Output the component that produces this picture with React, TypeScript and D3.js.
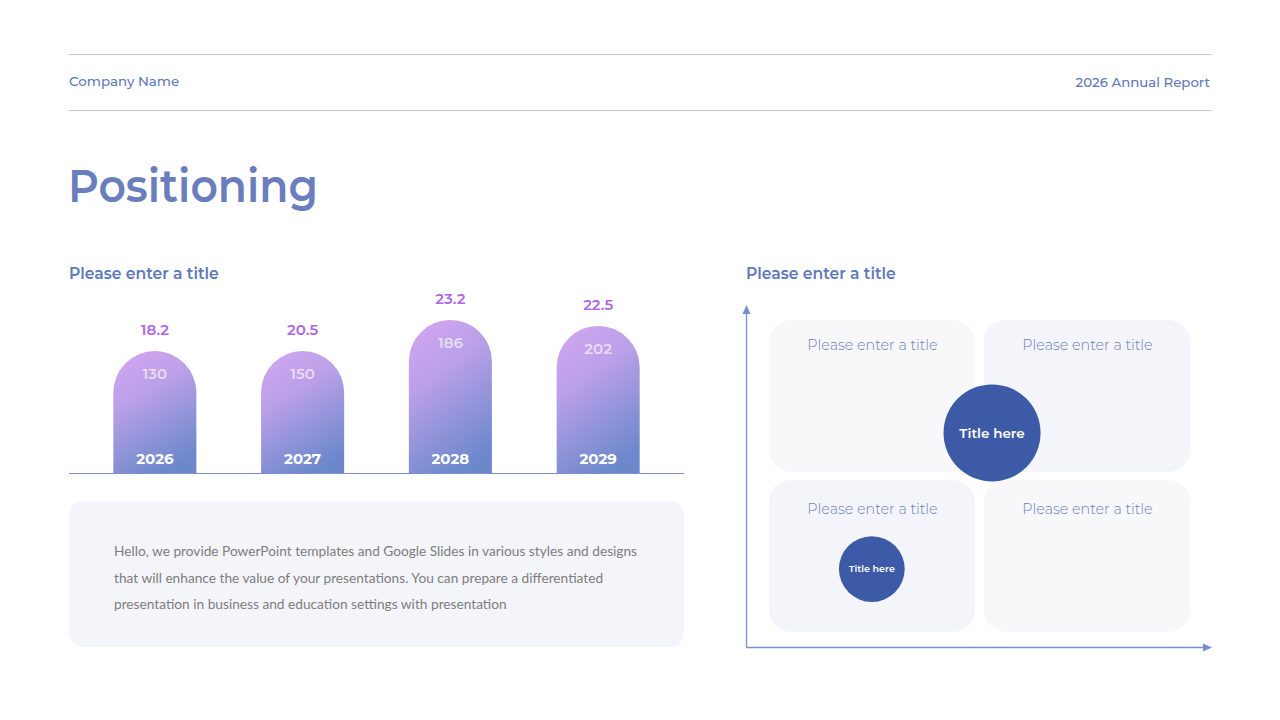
import React from "react";
import * as d3 from "d3";

const years = ["2026", "2027", "2028", "2029"];
const topValues = ["18.2", "20.5", "23.2", "22.5"];
const innerValues = [130, 150, 186, 202];
const barLevels = [12.2, 12.2, 15.3, 14.7];

const quadrantTitles = ["Please enter a title", "Please enter a title", "Please enter a title", "Please enter a title"];
const quadrantShade = ["#f8f8fa", "#f4f5fa", "#f4f5fa", "#f8f8fa"];
const bubbleLabels = ["Title here", "Title here"];
const bubbleX = [52.8, 27.0];
const bubbleY = [62.6, 22.8];
const bubbleSize = [100, 46];

const bodyLines = [
  "Hello, we provide PowerPoint templates and Google Slides in various styles and designs",
  "that will enhance the value of your presentations. You can prepare a differentiated",
  "presentation in business and education settings with presentation",
];

const HEAD = "Montserrat, 'Open Sans', sans-serif";
const BODY = "Lato, 'Open Sans', sans-serif";
const BLUE = "#6178b9";
const AXIS = "#7b8fd0";

export default function App() {
  const baseline = 473;
  const x = d3.scaleBand<string>().domain(years).range([69, 684]).paddingInner(0.438).paddingOuter(0.3);
  const y = d3.scaleLinear().domain([0, 16]).range([baseline, baseline - 160]);
  const bw = x.bandwidth();
  const r = bw / 2;

  const barPath = (i: number) => {
    const x0 = x(years[i])!;
    const top = y(barLevels[i]);
    const p = d3.path();
    p.moveTo(x0, baseline);
    p.lineTo(x0, top + r);
    p.arc(x0 + r, top + r, r, Math.PI, 0);
    p.lineTo(x0 + bw, baseline);
    p.closePath();
    return p.toString();
  };

  // quadrant panel
  const qx = d3.scaleLinear().domain([0, 100]).range([746, 1212]);
  const qy = d3.scaleLinear().domain([0, 100]).range([647, 305]);
  const rScale = d3.scaleSqrt().domain([0, 100]).range([0, 48.5]);
  const cells = [
    { x: 769, y: 320 },
    { x: 984, y: 320 },
    { x: 769, y: 480 },
    { x: 984, y: 480 },
  ];
  const cw = 206;
  const ch = 152;

  return (
    <svg width={1280} height={720} style={{ position: "absolute", left: 0, top: 0, background: "#fff" }}>
      <defs>
        <linearGradient id="barGrad" x1="0.2" y1="0" x2="0.6" y2="1">
          <stop offset="0" stopColor="#d0a6f0" />
          <stop offset="0.35" stopColor="#bba0e8" />
          <stop offset="1" stopColor="#6c88cb" />
        </linearGradient>
      </defs>

      {/* header */}
      <line x1={69} x2={1212} y1={54.5} y2={54.5} stroke="#c6c6c6" strokeWidth={1} />
      <line x1={69} x2={1212} y1={110.5} y2={110.5} stroke="#c6c6c6" strokeWidth={1} />
      <text x={69} y={86} fontFamily={HEAD} fontSize={13.4} fontWeight={500} fill={BLUE}>Company Name</text>
      <text x={1210} y={87} textAnchor="end" fontFamily={HEAD} fontSize={13.3} fontWeight={500} fill={BLUE}>2026 Annual Report</text>

      <text x={68} y={202} fontFamily={HEAD} fontSize={46} fontWeight={600} fill="#6a7dbd" textLength={250} lengthAdjust="spacingAndGlyphs">Positioning</text>

      <text x={69} y={279} fontFamily={HEAD} fontSize={15.6} fontWeight={600} fill={BLUE}>Please enter a title</text>
      <text x={746} y={279} fontFamily={HEAD} fontSize={15.6} fontWeight={600} fill={BLUE}>Please enter a title</text>

      {/* bar chart */}
      {years.map((yr, i) => {
        const cx = x(yr)! + r;
        const top = y(barLevels[i]);
        return (
          <g key={yr}>
            <path d={barPath(i)} fill="url(#barGrad)" />
            <text x={cx} y={top - 16} textAnchor="middle" fontFamily={HEAD} fontSize={15} fontWeight={600} fill="#b066e6">{topValues[i]}</text>
            <text x={cx} y={top + 28} textAnchor="middle" fontFamily={HEAD} fontSize={15} fontWeight={600} fill="#ffffff" fillOpacity={0.65}>{innerValues[i]}</text>
            <text x={cx} y={baseline - 9} textAnchor="middle" fontFamily={HEAD} fontSize={15} fontWeight={700} fill="#ffffff">{yr}</text>
          </g>
        );
      })}
      <line x1={69} x2={684} y1={baseline + 0.5} y2={baseline + 0.5} stroke={AXIS} strokeWidth={1} />

      {/* text box */}
      <rect x={69} y={501} width={615} height={146} rx={14} fill="#f4f5fa" />
      {bodyLines.map((t, i) => (
        <text key={i} x={114} y={556 + i * 26.5} fontFamily={BODY} fontSize={13.7} fill="#7d7d7d">{t}</text>
      ))}

      {/* quadrant */}
      {cells.map((c, i) => (
        <g key={i}>
          <rect x={c.x} y={c.y} width={cw} height={ch} rx={22} fill={quadrantShade[i]} />
          <text x={c.x + cw / 2 + 0.5} y={c.y + (i < 2 ? 30 : 34)} textAnchor="middle" fontFamily={HEAD} fontSize={14.3} fontWeight={300} fill="#6a80c0">{quadrantTitles[i]}</text>
        </g>
      ))}
      <line x1={746.5} x2={746.5} y1={647} y2={312} stroke={AXIS} strokeWidth={1.3} />
      <path d="M742.5,314 L746.5,305 L750.5,314 Z" fill={AXIS} />
      <line x1={746} x2={1205} y1={647.5} y2={647.5} stroke={AXIS} strokeWidth={1.3} />
      <path d="M1203,643.5 L1212,647.5 L1203,651.5 Z" fill={AXIS} />

      {bubbleLabels.map((l, i) => {
        const rr = rScale(bubbleSize[i]);
        return (
          <g key={i}>
            <circle cx={qx(bubbleX[i])} cy={qy(bubbleY[i])} r={rr} fill="#3c5aa6" />
            <text x={qx(bubbleX[i])} y={qy(bubbleY[i])} dy="0.35em" textAnchor="middle" fontFamily={HEAD} fontSize={i === 0 ? 13.5 : 9.5} fontWeight={600} fill="#ffffff">{l}</text>
          </g>
        );
      })}
    </svg>
  );
}
